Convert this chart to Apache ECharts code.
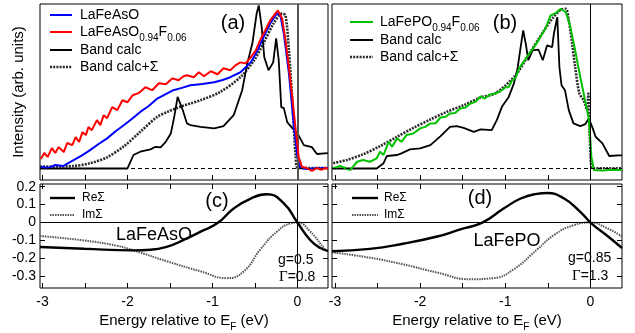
<!DOCTYPE html>
<html>
<head>
<meta charset="utf-8">
<script src="https://cdn.jsdelivr.net/npm/echarts@6/dist/echarts.min.js"></script>
<style>
html, body { margin: 0; padding: 0; background: #fff; }
#chart { width: 635px; height: 333px; }
</style>
</head>
<body>
<div id="chart"></div>
<script>
// energies in eV relative to E_F, intensities in arbitrary units (baseline = 0)
var asoUndoped = [[-3.02,1.1],[-2.93,0.3],[-2.85,2.1],[-2.76,1.5],[-2.63,5.2],[-2.54,7.8],[-2.44,11.2],[-2.34,14.9],[-2.24,18.3],[-2.14,22.6],
  [-2.04,26.4],[-1.95,30.1],[-1.85,34.4],[-1.75,38.0],[-1.65,42.5],[-1.55,45.2],[-1.46,47.6],[-1.36,49.0],[-1.26,50.6],[-1.12,51.3],
  [-0.98,52.4],[-0.88,53.8],[-0.79,55.5],[-0.67,58.5],[-0.55,64.5],[-0.47,71.8],[-0.40,79.7],[-0.32,88.2],[-0.24,94.4],[-0.20,93.0],
  [-0.16,82.1],[-0.10,57.9],[-0.04,25.2],[0.0,7.0],[0.035,0.3],[0.11,-0.3],[0.22,0.2],[0.36,0.3]];
var asoDoped = [[-3.02,5.8],[-2.98,9.4],[-2.94,7.0],[-2.89,12.4],[-2.85,9.4],[-2.81,13.0],[-2.75,10.0],[-2.71,15.5],[-2.65,14.2],[-2.61,19.1],
  [-2.57,16.1],[-2.53,22.1],[-2.49,20.3],[-2.46,25.2],[-2.42,23.3],[-2.36,29.4],[-2.32,26.4],[-2.28,32.4],[-2.24,30.6],[-2.18,37.3],
  [-2.12,35.5],[-2.06,41.5],[-2.00,40.3],[-1.94,44.5],[-1.87,45.8],[-1.79,49.4],[-1.71,47.6],[-1.63,51.8],[-1.55,51.2],[-1.47,54.8],
  [-1.40,53.6],[-1.34,56.1],[-1.30,56.7],[-1.22,55.5],[-1.16,58.5],[-1.10,56.1],[-1.02,59.1],[-0.94,57.3],[-0.87,60.9],[-0.79,59.7],
  [-0.73,62.7],[-0.67,64.5],[-0.61,63.9],[-0.55,67.6],[-0.49,71.8],[-0.44,77.9],[-0.38,83.9],[-0.32,90.0],[-0.26,94.2],[-0.23,96.1],
  [-0.18,91.2],[-0.14,77.9],[-0.10,61.5],[-0.06,43.3],[-0.02,23.3],[0.015,7.0],[0.055,0.9],[0.11,0.3],[0.17,-1.5],[0.23,0.3],
  [0.28,-0.9],[0.33,0.3],[0.36,-0.3]];
var asoBand = [[-3.03,0],[-2.00,0],[-1.93,8.2],[-1.85,10.2],[-1.73,11.6],[-1.67,13.2],[-1.61,12.8],[-1.55,16.2],[-1.49,21.3],[-1.45,31.4],
  [-1.41,43.5],[-1.35,35.5],[-1.30,27.4],[-1.26,26.4],[-1.14,25.3],[-0.98,24.4],[-0.87,25.8],[-0.75,32.4],[-0.65,47.6],[-0.59,63.9],
  [-0.53,76.1],[-0.48,94.2],[-0.455,99.1],[-0.42,85.8],[-0.39,67.6],[-0.34,59.7],[-0.285,64.5],[-0.25,79.1],[-0.22,65.8],[-0.19,37.3],
  [-0.16,36.7],[-0.12,28.2],[-0.06,24.5],[0.0,21.5],[0.075,14.2],[0.17,13.0],[0.23,8.8],[0.36,9.4]];
var asoBandSigma = [[-3.03,1.1],[-2.64,1.5],[-2.44,3.2],[-2.24,6.8],[-2.04,13.6],[-1.85,22.3],[-1.65,31.4],[-1.53,34.4],[-1.38,37.5],
  [-1.26,39.5],[-1.14,41.5],[-0.91,46.5],[-0.67,55.6],[-0.51,65.8],[-0.40,76.1],[-0.28,88.2],[-0.18,94.2],[-0.14,93.0],[-0.10,71.8],
  [-0.06,41.5],[-0.02,7.0],[0.01,0.3],[0.36,0.3]];

var pofDoped = [[-3.02,0.1],[-2.94,1.5],[-2.82,-0.9],[-2.74,4.1],[-2.67,5.2],[-2.59,4.1],[-2.51,6.2],[-2.47,10.2],[-2.43,8.2],[-2.37,16.2],
  [-2.33,13.2],[-2.27,18.3],[-2.22,16.2],[-2.16,20.3],[-2.08,21.3],[-2.00,24.4],[-1.94,25.3],[-1.88,27.4],[-1.82,27.5],[-1.76,31.0],
  [-1.70,31.5],[-1.65,33.5],[-1.59,33.8],[-1.53,36.5],[-1.47,37.0],[-1.41,39.5],[-1.35,40.5],[-1.29,43.9],[-1.24,42.5],[-1.18,45.0],
  [-1.12,45.6],[-1.06,46.8],[-1.00,49.2],[-0.96,49.5],[-0.92,53.6],[-0.88,55.0],[-0.84,60.7],[-0.76,66.8],[-0.69,71.8],[-0.61,77.9],
  [-0.53,85.0],[-0.47,93.0],[-0.41,94.4],[-0.35,97.1],[-0.29,95.0],[-0.24,87.0],[-0.18,71.8],[-0.12,55.6],[-0.06,40.5],[-0.02,30.4],
  [0.01,7.2],[0.04,-0.9],[0.14,-1.3],[0.25,-0.8],[0.33,-0.9],[0.37,-0.9]];
var poBand = [[-3.035,0],[-2.51,0],[-2.43,3.2],[-2.39,7.6],[-2.27,8.2],[-2.22,9.2],[-2.12,11.6],[-2.00,12.2],[-1.88,14.2],[-1.76,19.7],
  [-1.65,25.3],[-1.57,25.8],[-1.49,24.7],[-1.37,22.3],[-1.29,23.8],[-1.16,23.3],[-1.10,29.4],[-1.04,37.5],[-0.96,43.5],[-0.90,51.6],
  [-0.86,59.7],[-0.82,73.8],[-0.79,83.9],[-0.76,75.9],[-0.73,65.8],[-0.68,71.8],[-0.61,72.2],[-0.56,65.8],[-0.51,74.8],[-0.45,73.8],
  [-0.43,81.9],[-0.39,92.0],[-0.365,61.7],[-0.34,50.6],[-0.30,47.6],[-0.255,35.5],[-0.20,27.4],[-0.12,25.8],[-0.06,27.0],[-0.02,30.4],
  [0.02,25.3],[0.06,19.3],[0.14,15.3],[0.22,7.6],[0.33,8.0],[0.37,8.0]];
var poBandSigma = [[-3.02,3.2],[-2.86,5.2],[-2.67,8.6],[-2.47,13.6],[-2.27,19.3],[-2.08,24.7],[-1.88,29.8],[-1.69,34.4],[-1.49,38.5],
  [-1.29,43.2],[-1.12,45.6],[-0.88,56.7],[-0.73,68.8],[-0.57,81.9],[-0.45,91.0],[-0.35,96.5],[-0.29,97.1],[-0.255,90.0],[-0.215,75.9],
  [-0.18,61.7],[-0.13,45.6],[-0.08,41.5],[-0.04,35.5],[-0.025,45.6],[-0.01,21.5],[0.01,1.1],[0.035,0.1],[0.37,0.1]];

// self-energies (eV)
var reSigmaAs = [[-3.03,-0.136],[-2.51,-0.146],[-1.93,-0.155],[-1.73,-0.152],[-1.53,-0.134],[-1.34,-0.097],[-1.14,-0.051],[-0.94,-0.003],
  [-0.75,0.078],[-0.55,0.134],[-0.36,0.158],[-0.16,0.107],[0,0],[0.15,-0.097],[0.27,-0.142],[0.36,-0.158]];
var imSigmaAs = [[-3.03,-0.075],[-2.51,-0.100],[-2.12,-0.130],[-1.93,-0.155],[-1.53,-0.217],[-1.14,-0.272],[-0.83,-0.310],[-0.63,-0.272],
  [-0.44,-0.152],[-0.24,-0.050],[-0.08,-0.005],[0,0],[0.15,-0.050],[0.33,-0.152],[0.36,-0.160]];
var reSigmaP = [[-3.035,-0.160],[-2.59,-0.147],[-2.20,-0.118],[-1.80,-0.078],[-1.53,-0.038],[-1.27,0],[-1.02,0.078],[-0.82,0.134],
  [-0.63,0.160],[-0.51,0.165],[-0.31,0.134],[-0.12,0.060],[0,0],[0.20,-0.075],[0.37,-0.142]];
var imSigmaP = [[-3.035,-0.166],[-2.59,-0.196],[-2.20,-0.233],[-1.80,-0.279],[-1.41,-0.316],[-1.14,-0.310],[-0.90,-0.260],[-0.63,-0.152],
  [-0.43,-0.070],[-0.20,-0.015],[0,0],[0.20,-0.033],[0.37,-0.078]];

// tick positions
var eTicks = [-3, -2.5, -2, -1.5, -1, -0.5, 0];
var eTickLabels = [-3, -2, -1, 0];
var sigmaTicks = [-0.3, -0.2, -0.1, 0, 0.1, 0.2];

var FONT = 'Liberation Sans, Arial, Helvetica, sans-serif';
var sigmaDash = [2, 1.2];

var myChart = echarts.init(document.getElementById('chart'));

function xAx(gi, opts) {
  return Object.assign({
    type: 'value', gridIndex: gi, min: -3.03, max: 0.36,
    axisLine: { show: false, onZero: false }, splitLine: { show: false },
    axisTick: { show: true, inside: true, length: 5, customValues: eTicks, lineStyle: { color: '#000' } },
    axisLabel: { show: false }
  }, opts);
}
function yAx(gi, opts) {
  return Object.assign({
    type: 'value', gridIndex: gi, axisLine: { show: false, onZero: false }, splitLine: { show: false },
    axisTick: { show: false }, axisLabel: { show: false }
  }, opts);
}
var sigTicks = { show: true, inside: true, length: 5, customValues: sigmaTicks, lineStyle: { color: '#000' } };
var eName = {
  name: '{t|Energy relative to E}{s|F}{t| (eV)}', nameLocation: 'middle', nameGap: 22,
  nameTextStyle: { rich: { t: { fontSize: 15, fontFamily: FONT, color: '#000', lineHeight: 22 },
    s: { fontSize: 10, fontFamily: FONT, color: '#000', verticalAlign: 'bottom', lineHeight: 10 } } }
};
var eLabels = {
  show: true, margin: 7, color: '#000', fontSize: 14, fontFamily: FONT, customValues: eTickLabels,
  formatter: function (v) { return String(Math.round(v)); }
};

function line(data, xi, yi, color, width, dash, smooth, z) {
  return {
    type: 'line', data: data, xAxisIndex: xi, yAxisIndex: yi, showSymbol: false, symbol: 'none',
    smooth: smooth || false, z: z || 2, silent: true,
    lineStyle: { color: color, width: width, type: dash || 'solid' }
  };
}
function refLines(items) {
  return { silent: true, symbol: 'none', label: { show: false }, animation: false, data: items };
}

var sAso = line(asoBandSigma, 0, 0, '#2a2a2a', 2.6, sigmaDash, 0.3, 2);
sAso.markLine = refLines([
  { xAxis: 0, lineStyle: { color: '#555', width: 2, type: 'solid' } },
  { yAxis: 0, lineStyle: { color: '#000', width: 1, type: [4, 3] } }
]);
var sPo = line(poBand, 1, 1, '#000', 1.8, null, false, 2);
sPo.markLine = refLines([
  { xAxis: 0, lineStyle: { color: '#000', width: 1, type: 'solid' } },
  { yAxis: 0, lineStyle: { color: '#000', width: 1, type: [4, 3] } }
]);
var sReAs = line(reSigmaAs, 2, 2, '#000', 2.4, null, 0.5, 3);
sReAs.markLine = refLines([
  { xAxis: 0, lineStyle: { color: '#000', width: 1, type: 'solid' } },
  { yAxis: 0, lineStyle: { color: '#000', width: 1, type: 'solid' } }
]);
var sReP = line(reSigmaP, 3, 3, '#000', 2.4, null, 0.5, 3);
sReP.markLine = refLines([
  { xAxis: 0, lineStyle: { color: '#000', width: 1, type: 'solid' } },
  { yAxis: 0, lineStyle: { color: '#000', width: 1, type: 'solid' } }
]);

function txt(x, y, text, size, align, rich) {
  return { type: 'text', x: x, y: y, silent: true, z: 10,
    style: { text: text, fill: '#000', font: size + 'px ' + FONT, align: align || 'left', verticalAlign: 'middle', rich: rich } };
}
function seg(x1, x2, y, color, width, dash) {
  return { type: 'line', silent: true, z: 10, shape: { x1: x1, y1: y, x2: x2, y2: y },
    style: { stroke: color, lineWidth: width, lineDash: dash || null } };
}
var subRich = {
  n: { fontSize: 14, fontFamily: FONT, color: '#000', lineHeight: 22 },
  s: { fontSize: 10, fontFamily: FONT, color: '#000', verticalAlign: 'bottom', lineHeight: 10 }
};
var gRich = {
  n: { fontSize: 14, fontFamily: FONT, color: '#000' },
  G: { fontSize: 15, fontFamily: 'Liberation Serif, Times New Roman, serif', color: '#000' }
};

option = {
  animation: false,
  backgroundColor: '#fff',
  grid: [
    { left: 40, top: 4, width: 288, height: 176, show: true, borderColor: '#000', borderWidth: 1 },
    { left: 332, top: 4, width: 290, height: 176, show: true, borderColor: '#000', borderWidth: 1 },
    { left: 40, top: 184, width: 288, height: 105, show: true, borderColor: '#000', borderWidth: 1 },
    { left: 332, top: 184, width: 290, height: 105, show: true, borderColor: '#000', borderWidth: 1 }
  ],
  xAxis: [
    xAx(0), xAx(1, { min: -3.035, max: 0.37 }),
    xAx(2, Object.assign({ axisLabel: eLabels }, eName)),
    xAx(3, Object.assign({ min: -3.035, max: 0.37, axisLabel: eLabels }, eName)),
    xAx(2, { position: 'top' }), xAx(3, { position: 'top', min: -3.035, max: 0.37 })
  ],
  yAxis: [
    yAx(0, { min: -7, max: 100, name: 'Intensity (arb. units)', nameLocation: 'middle', nameGap: 14,
      nameTextStyle: { fontSize: 15, fontFamily: FONT, color: '#000' } }),
    yAx(1, { min: -7, max: 100 }),
    yAx(2, { min: -0.365, max: 0.215, axisTick: sigTicks,
      axisLabel: { show: true, margin: 4, color: '#000', fontSize: 14, fontFamily: FONT, customValues: sigmaTicks,
        formatter: function (v) { var r = Math.round(v * 10) / 10; return r === 0 ? '0' : r.toFixed(1); } } }),
    yAx(3, { min: -0.365, max: 0.215, axisTick: sigTicks }),
    yAx(2, { position: 'right', min: -0.365, max: 0.215, axisTick: sigTicks }),
    yAx(3, { position: 'right', min: -0.365, max: 0.215, axisTick: sigTicks })
  ],
  series: [
    sAso,
    line(asoBand, 0, 0, '#000', 1.8, null, false, 3),
    line(asoUndoped, 0, 0, '#0000ff', 2, null, false, 4),
    line(asoDoped, 0, 0, '#ff0000', 2, null, false, 5),
    sPo,
    line(poBandSigma, 1, 1, '#2a2a2a', 2.6, sigmaDash, 0.3, 3),
    line(pofDoped, 1, 1, '#00c000', 2, null, false, 4),
    line(imSigmaAs, 2, 2, '#555', 2, [1.5, 1], 0.5, 2),
    sReAs,
    line(imSigmaP, 3, 3, '#555', 2, [1.5, 1], 0.5, 2),
    sReP
  ],
  graphic: [
    // legend (a)
    seg(50, 72, 15, '#0000ff', 2), txt(80, 15, 'LaFeAsO', 14),
    seg(50, 72, 32, '#ff0000', 2), txt(80, 32, '{n|LaFeAsO}{s|0.94}{n|F}{s|0.06}', 14, 'left', subRich),
    seg(50, 72, 50, '#000', 2), txt(80, 50, 'Band calc', 14),
    seg(50, 72, 67, '#2a2a2a', 2.6, sigmaDash), txt(80, 67, 'Band calc+Σ', 14),
    // legend (b)
    seg(350, 373, 22, '#00c000', 2), txt(380, 22, '{n|LaFePO}{s|0.94}{n|F}{s|0.06}', 14, 'left', subRich),
    seg(350, 373, 40, '#000', 2), txt(380, 40, 'Band calc', 14),
    seg(350, 373, 57, '#2a2a2a', 2.6, sigmaDash), txt(380, 57, 'Band calc+Σ', 14),
    // legend (c), (d)
    seg(50, 75, 198, '#000', 2.4), txt(82, 198, 'ReΣ', 12),
    seg(50, 75, 215, '#555', 2, [1.5, 1]), txt(82, 215, 'ImΣ', 12),
    seg(352, 378, 198, '#000', 2.4), txt(384, 198, 'ReΣ', 12),
    seg(352, 378, 215, '#555', 2, [1.5, 1]), txt(384, 215, 'ImΣ', 12),
    // panel tags
    txt(233, 23, '(a)', 20, 'center'), txt(505, 23, '(b)', 20, 'center'),
    txt(217, 201, '(c)', 20, 'center'), txt(480, 198, '(d)', 20, 'center'),
    txt(154, 235, 'LaFeAsO', 18, 'center'), txt(507, 241, 'LaFePO', 18, 'center'),
    txt(278, 260, 'g=0.5', 14), txt(279, 277, '{G|Γ}{n|=0.8}', 14, 'left', gRich),
    txt(568, 258, 'g=0.85', 14), txt(572, 276, '{G|Γ}{n|=1.3}', 14, 'left', gRich)
  ]
};

myChart.setOption(option);
window.addEventListener('resize', function () { myChart.resize(); });
</script>
</body>
</html>
